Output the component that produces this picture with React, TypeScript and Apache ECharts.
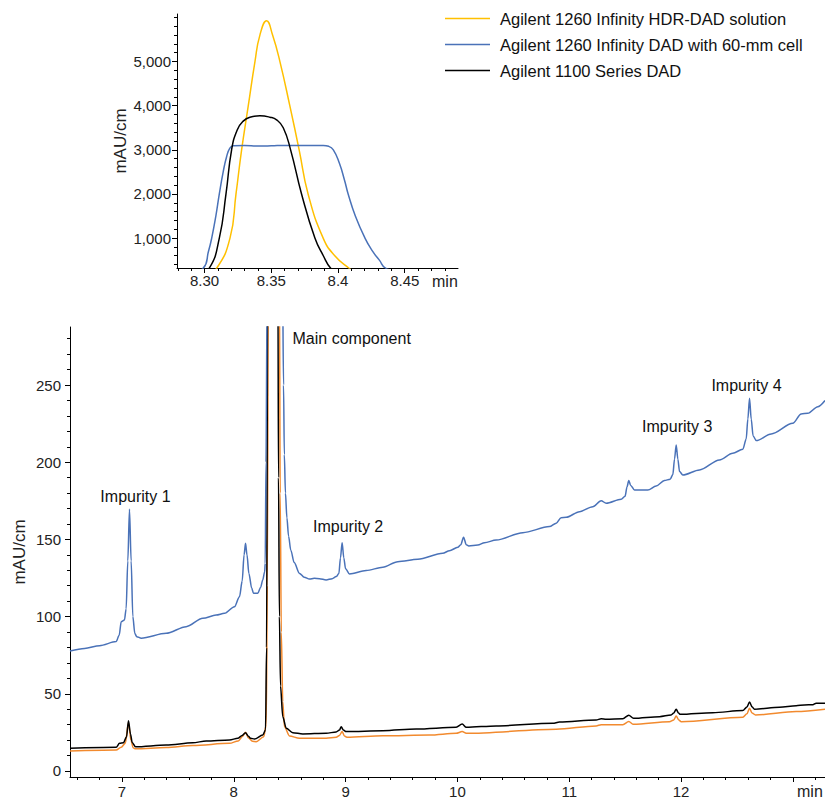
import { useEffect, useRef } from 'react';
import * as echarts from 'echarts';

type Pt = [number, number];

const FONT = 'Liberation Sans, Arial, sans-serif';

const NAME_HDR = 'Agilent 1260 Infinity HDR-DAD solution';
const NAME_60MM = 'Agilent 1260 Infinity DAD with 60-mm cell';
const NAME_1100 = 'Agilent 1100 Series DAD';
const legendNames = [NAME_HDR, NAME_60MM, NAME_1100];

// Retention time (min) vs absorbance (mAU/cm)
const hdrDad: Pt[] = [
  [6.535, 13.0], [6.948, 13.6], [6.993, 15.4], [7.03, 18.0], [7.058, 31.3], [7.08, 20.0],
  [7.1, 15.0], [7.121, 14.4], [7.395, 15.2], [7.633, 16.5], [7.962, 17.9], [8.04, 19.5],
  [8.08, 22.5], [8.105, 25.1], [8.13, 21.5], [8.167, 19.2], [8.2, 19.0], [8.268, 22.2],
  [8.29, 30], [8.3, 120], [8.3091, 316], [8.3191, 1000], [8.3236, 2000], [8.3278, 3000],
  [8.3328, 4000], [8.3378, 5000], [8.3415, 5600], [8.3465, 5926], [8.351, 5600],
  [8.3565, 5000], [8.3639, 4000], [8.3709, 3000], [8.3776, 2000], [8.3889, 1000],
  [8.3976, 600], [8.4083, 316], [8.415, 180], [8.425, 90], [8.438, 45], [8.453, 28.7],
  [8.498, 22.7], [8.587, 21.2], [8.826, 21.2], [8.916, 21.8], [8.945, 23.0], [8.969, 25.5],
  [8.99, 22.6], [9.011, 21.8], [9.333, 22.8], [9.75, 23.3], [9.989, 24.4], [10.043, 25.5],
  [10.079, 24.4], [10.884, 27.0], [11.241, 29.2], [11.286, 30.0], [11.48, 30.0], [11.533, 32.0],
  [11.575, 30.2], [11.897, 31.9], [11.935, 33.0], [11.957, 35.6], [11.98, 33.0], [12.002, 31.9],
  [12.553, 34.8], [12.59, 37.0], [12.613, 40.6], [12.636, 37.5], [12.666, 36.3], [13.03, 38.5],
  [13.288, 40.0],
];

const dad60mm: Pt[] = [
  [6.535, 77.7], [6.665, 79.4], [6.8, 81.2], [6.948, 83.8], [6.975, 88.0], [6.993, 96.7],
  [7.022, 97.8], [7.037, 105], [7.052, 136], [7.067, 169.5], [7.082, 136], [7.097, 100],
  [7.115, 89], [7.132, 87.0], [7.172, 86.0], [7.395, 89.2], [7.574, 93.5], [7.723, 98.9],
  [7.842, 101.0], [7.917, 102.1], [8.006, 106.4], [8.051, 112.9], [8.075, 123], [8.092, 140],
  [8.105, 147.5], [8.118, 140], [8.135, 128], [8.16, 118.5], [8.176, 115.1], [8.215, 115.1],
  [8.24, 119.0], [8.259, 123.7], [8.276, 129.0], [8.281, 134.5], [8.288, 200], [8.2991, 320],
  [8.303, 700], [8.3054, 1000], [8.3085, 1500], [8.3111, 2000], [8.314, 2500], [8.3166, 2850],
  [8.319, 3040], [8.3216, 3095], [8.33, 3100], [8.34, 3085], [8.35, 3090], [8.36, 3100],
  [8.37, 3100], [8.38, 3100], [8.389, 3100], [8.393, 3080], [8.3965, 3000], [8.401, 2700],
  [8.405, 2300], [8.4076, 2000], [8.413, 1500], [8.4202, 1000], [8.426, 700], [8.431, 500],
  [8.4356, 320], [8.445, 250], [8.452, 205], [8.462, 180], [8.475, 164], [8.49, 152],
  [8.51, 143], [8.54, 135], [8.588, 128], [8.63, 125.5], [8.677, 124.3], [8.72, 124.8],
  [8.767, 124.6], [8.826, 123.7], [8.88, 124.6], [8.916, 125.9], [8.94, 128], [8.954, 138],
  [8.969, 147.9], [8.984, 138], [9.0, 131], [9.035, 127.6], [9.184, 129.8], [9.333, 132.0],
  [9.467, 135.6], [9.646, 137.1], [9.869, 141.0], [9.929, 142.7], [10.004, 144.9],
  [10.03, 146.5], [10.055, 151.4], [10.08, 146.5], [10.102, 145.8], [10.183, 146.4],
  [10.242, 147.9], [10.347, 149.6], [10.585, 154.4], [10.824, 158.3], [10.884, 160.5],
  [10.928, 164.1], [10.973, 164.3], [11.092, 168.0], [11.211, 171.2], [11.286, 175.1],
  [11.331, 173.4], [11.465, 176.0], [11.5, 178], [11.517, 184], [11.533, 188.1], [11.55, 185],
  [11.584, 182.0], [11.703, 182.0], [11.778, 184.6], [11.852, 188.1], [11.903, 189.0],
  [11.927, 192], [11.942, 202], [11.957, 211.2], [11.972, 202], [11.987, 194], [12.016, 191.7],
  [12.165, 195.0], [12.344, 201.5], [12.463, 205.8], [12.553, 208.4], [12.583, 215],
  [12.598, 228], [12.613, 241.4], [12.628, 228], [12.645, 217], [12.673, 214.0],
  [12.807, 218.3], [13.0, 225.2], [13.075, 231.3], [13.134, 231.7], [13.224, 236.0],
  [13.288, 240.0],
];

const dad1100: Pt[] = [
  [6.535, 14.7], [6.948, 15.3], [6.978, 17.9], [7.013, 18.3], [7.04, 22.0], [7.058, 32.6],
  [7.076, 24.0], [7.091, 18.5], [7.121, 15.7], [7.395, 16.8], [7.633, 18.3], [7.753, 19.4],
  [7.962, 20.1], [8.036, 21.2], [8.075, 23.0], [8.105, 24.8], [8.13, 22.5], [8.15, 21.2],
  [8.185, 20.7], [8.259, 23.3], [8.284, 26.6], [8.293, 80], [8.3036, 320], [8.3111, 1000],
  [8.3161, 2000], [8.3203, 3000], [8.3245, 3450], [8.329, 3650], [8.334, 3740], [8.3415, 3770],
  [8.349, 3740], [8.354, 3680], [8.359, 3500], [8.3645, 3000], [8.3727, 2000], [8.3827, 1000],
  [8.389, 600], [8.3944, 320], [8.4, 190], [8.408, 100], [8.418, 55], [8.438, 35.2],
  [8.469, 27.7], [8.528, 24.8], [8.617, 24.0], [8.826, 24.4], [8.916, 25.3], [8.945, 26.5],
  [8.961, 28.7], [8.98, 26.5], [9.005, 25.5], [9.333, 26.1], [9.631, 27.2], [9.989, 28.3],
  [10.043, 30.4], [10.079, 28.3], [10.347, 29.2], [10.853, 30.9], [10.913, 31.7], [11.241, 33.0],
  [11.286, 33.9], [11.331, 33.5], [11.48, 33.9], [11.533, 36.1], [11.575, 34.1], [11.808, 35.2],
  [11.912, 36.3], [11.935, 37.5], [11.957, 40.0], [11.978, 37.5], [11.993, 36.7], [12.284, 37.8],
  [12.553, 39.1], [12.59, 41.5], [12.613, 44.7], [12.636, 41.5], [12.657, 40.0], [12.881, 41.3],
  [13.03, 42.3], [13.104, 42.8], [13.179, 42.9], [13.209, 43.9], [13.288, 43.9],
];

// Tick positions and labels
const insetXTicks = [8.3, 8.35, 8.4, 8.45];
const insetXLabels = ['8.30', '8.35', '8.4', '8.45'];
const insetXMinorTicks = [8.28, 8.29, 8.31, 8.32, 8.33, 8.34, 8.36, 8.37, 8.38, 8.39, 8.41, 8.42, 8.43, 8.44, 8.46, 8.47, 8.48];
const insetYTicks = [1000, 2000, 3000, 4000, 5000];
const insetYMinorTicks = [400, 600, 800, 1200, 1400, 1600, 1800, 2200, 2400, 2600, 2800, 3200, 3400, 3600, 3800, 4200, 4400, 4600, 4800, 5200, 5400, 5600, 5800, 6000];
const mainXTicks = [7, 8, 9, 10, 11, 12, 13];
const mainXLabels = ['7', '8', '9', '10', '11', '12', ''];
const mainXMinorTicks = [6.6, 6.8, 7.2, 7.4, 7.6, 7.8, 8.2, 8.4, 8.6, 8.8, 9.2, 9.4, 9.6, 9.8, 10.2, 10.4, 10.6, 10.8, 11.2, 11.4, 11.6, 11.8, 12.2, 12.4, 12.6, 12.8, 13.2];
const mainYTicks = [0, 50, 100, 150, 200, 250];
const mainYMinorTicks = [10, 20, 30, 40, 60, 70, 80, 90, 110, 120, 130, 140, 160, 170, 180, 190, 210, 220, 230, 240, 260, 270, 280];

// Peak annotations on the 60-mm cell trace
const impurityNames = ['Impurity 1', 'Impurity 2', 'Impurity 3', 'Impurity 4'];
const impurityTimes = [7.067, 8.969, 11.957, 12.613];
const mainComponentLabel = 'Main component';

const COLOR_HDR_INSET = '#FFC000';
const COLOR_HDR = '#F28A2E';
const COLOR_60MM = '#4A72B8';
const COLOR_1100 = '#000000';

const pickLabel = (ticks: number[], labels: string[]) => (v: number) => {
  const i = ticks.findIndex((t) => Math.abs(t - v) < 1e-6);
  return i >= 0 ? labels[i] : '';
};

const tickLabelStyle = { color: '#222', fontSize: 15, fontFamily: FONT };
const axisLineStyle = { show: true, onZero: false, lineStyle: { color: '#000', width: 1 } };

function majorAxis(gridIndex: number, min: number, max: number, ticks: number[], fmt: (v: number) => string, label: any, extra: any) {
  return {
    type: 'value', gridIndex, min, max, offset: 0,
    splitLine: { show: false },
    axisLine: axisLineStyle,
    axisTick: { show: true, customValues: ticks, length: 5, lineStyle: { color: '#000', width: 1 } },
    axisLabel: { show: true, customValues: ticks, formatter: fmt, ...tickLabelStyle, ...label },
    nameMoveOverlap: false,
    ...extra,
  };
}

function minorAxis(gridIndex: number, min: number, max: number, ticks: number[], position: string) {
  return {
    type: 'value', gridIndex, min, max, position, offset: 0,
    splitLine: { show: false },
    axisLine: { show: false, onZero: false },
    axisTick: { show: true, customValues: ticks, length: 3, lineStyle: { color: '#000', width: 1 } },
    axisLabel: { show: false },
  };
}

const lineSeries = (name: string, data: Pt[], color: string, xi: number, yi: number, z: number, smooth: number, monotone: boolean) => ({
  type: 'line', name, data, xAxisIndex: xi, yAxisIndex: yi,
  showSymbol: false, symbol: 'none', smooth, clip: true, z,
  ...(monotone ? { smoothMonotone: 'x' } : {}),
  lineStyle: { color, width: 1.5 }, itemStyle: { color }, emphasis: { disabled: true },
});

const valueAt = (data: Pt[], t: number) => {
  const p = data.find((d) => Math.abs(d[0] - t) < 1e-6);
  return p ? p[1] : 0;
};

const labelDistance = [5, 8, 10, 5];
const labelShift = [6, 6, 1, -3];

export default function App() {
  const ref = useRef<HTMLDivElement>(null);

  useEffect(() => {
    document.body.style.margin = '0';
    document.body.style.overflow = 'hidden';
    if (!ref.current) return;
    const chart = echarts.init(ref.current, null, { renderer: 'svg' });

    const bluePeaks = impurityNames.map((name, i) => ({
      name,
      coord: [impurityTimes[i], valueAt(dad60mm, impurityTimes[i])],
      label: { position: 'top', distance: labelDistance[i], offset: [labelShift[i], 0] },
    }));

    const axisName = (gap: number, lh: number) => ({
      name: 'min', nameLocation: 'end', nameGap: gap,
      nameTextStyle: { color: '#222', fontSize: 16, fontFamily: FONT, verticalAlign: 'top', lineHeight: lh },
    });

    const option: any = {
      animation: false,
      backgroundColor: '#fff',
      textStyle: { fontFamily: FONT },
      grid: [
        { left: 177, top: 14, width: 281, height: 254, containLabel: false, outerBoundsMode: 'none' },
        { left: 70, top: 327, right: 0, height: 450, containLabel: false, outerBoundsMode: 'none' },
      ],
      legend: {
        data: legendNames,
        orient: 'vertical',
        left: 445,
        top: 10,
        padding: 0,
        icon: 'rect',
        itemWidth: 45,
        itemHeight: 1.5,
        itemGap: 9,
        selectedMode: false,
        textStyle: { fontSize: 16.5, color: '#111', fontFamily: FONT, padding: [0, 0, 0, 5] },
      },
      xAxis: [
        majorAxis(0, 8.2794, 8.4899, insetXTicks, pickLabel(insetXTicks, insetXLabels), { margin: 5 }, {
          position: 'bottom', ...axisName(-26, 26),
        }),
        minorAxis(0, 8.2794, 8.4899, insetXMinorTicks, 'bottom'),
        majorAxis(1, 6.535, 13.288, mainXTicks, pickLabel(mainXTicks, mainXLabels), { margin: 7, lineHeight: 14 }, {
          position: 'bottom', name: 'min', nameLocation: 'end', nameGap: -28,
          nameTextStyle: { color: '#222', fontSize: 16, fontFamily: FONT, verticalAlign: 'top', lineHeight: 14, padding: [7, 0, 0, 0] },
        }),
        minorAxis(1, 6.535, 13.288, mainXMinorTicks, 'bottom'),
      ],
      yAxis: [
        majorAxis(0, 322, 6078, insetYTicks, (v: number) => v.toLocaleString('en-US'), { margin: 6 }, {
          position: 'left', name: 'mAU/cm', nameLocation: 'middle', nameGap: 48,
          nameTextStyle: { color: '#222', fontSize: 17, fontFamily: FONT },
        }),
        minorAxis(0, 322, 6078, insetYMinorTicks, 'left'),
        majorAxis(1, -3.9, 287.6, mainYTicks, (v: number) => String(v), { margin: 9 }, {
          position: 'left', name: 'mAU/cm', nameLocation: 'middle', nameGap: 42,
          nameTextStyle: { color: '#222', fontSize: 17, fontFamily: FONT },
        }),
        minorAxis(1, -3.9, 287.6, mainYMinorTicks, 'left'),
      ],
      series: [
        lineSeries(NAME_HDR, hdrDad, COLOR_HDR_INSET, 0, 0, 2, 0.5, false),
        lineSeries(NAME_60MM, dad60mm, COLOR_60MM, 0, 0, 3, 0.5, false),
        lineSeries(NAME_1100, dad1100, COLOR_1100, 0, 0, 4, 0.5, false),
        lineSeries(NAME_HDR, hdrDad, COLOR_HDR, 2, 2, 2, 0.3, true),
        lineSeries(NAME_1100, dad1100, COLOR_1100, 2, 2, 3, 0.3, true),
        {
          ...lineSeries(NAME_60MM, dad60mm, COLOR_60MM, 2, 2, 4, 0.3, true),
          markPoint: {
            symbol: 'circle',
            symbolSize: 0,
            silent: true,
            itemStyle: { color: 'transparent' },
            label: { show: true, formatter: '{b}', color: '#111', fontSize: 16, fontFamily: FONT },
            data: [
              ...bluePeaks,
              {
                name: mainComponentLabel,
                coord: [8.445, 280.3],
                label: { position: 'right', distance: 9 },
              },
            ],
          },
        },
      ],
    };

    chart.setOption(option);
    return () => chart.dispose();
  }, []);

  return <div ref={ref} style={{ width: 825, height: 799 }} />;
}
